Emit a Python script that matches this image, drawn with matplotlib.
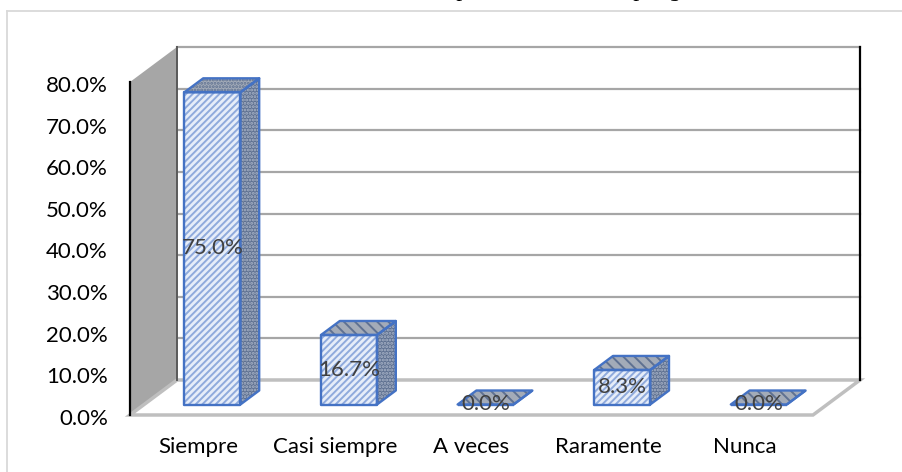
#!/usr/bin/env python3
import matplotlib
matplotlib.use('Agg')
import matplotlib.pyplot as plt
from matplotlib.lines import Line2D
from matplotlib.patches import Polygon
from matplotlib.transforms import ScaledTranslation

categories = ['Siempre', 'Casi siempre', 'A veces', 'Raramente', 'Nunca']
values = [75.0, 16.7, 0.0, 8.3, 0.0]
y_ticks = [0, 10, 20, 30, 40, 50, 60, 70, 80]

W, H = 903, 472
BLUE = '#4472C4'

plt.rcParams['font.family'] = ['Lato', 'DejaVu Sans']
plt.rcParams['hatch.linewidth'] = 1.4

# depth of the fake 3d box, in data units
DX = 47 / 136.6
DY = 35 / 4.1625
BAR_W = 0.41


def depth(x, y, d):
    return (x + DX * d, y + DY * d)


def box_wall(ax, pts, z, **kw):
    ax.add_patch(Polygon(pts, closed=True, clip_on=False, zorder=z, **kw))


def draw_walls(ax):
    top = y_ticks[-1]
    left, right = ax.get_xlim()
    wall = [(left, 0), (left, top), depth(left, top, 1), depth(left, 0, 1)]
    box_wall(ax, wall, 1, facecolor='#A6A6A6', edgecolor='none')
    for t in y_ticks:
        ax.plot([depth(left, t, 1)[0], depth(right, t, 1)[0]],
                [depth(left, t, 1)[1]] * 2,
                color='#A6A6A6', lw=1.6, clip_on=False, zorder=2)
    floor = [(left, 0), (right, 0), depth(right, 0, 1), depth(left, 0, 1)]
    box_wall(ax, floor, 2, facecolor='white', edgecolor='#BFBFBF', lw=2.5)
    ax.plot([depth(left, 0, 1)[0]] * 2, [depth(left, 0, 1)[1], depth(left, top, 1)[1]],
            color='#595959', lw=1.4, clip_on=False, zorder=3)
    ax.plot([left, left], [0, top], color='black', lw=1.6, clip_on=False, zorder=3)
    ax.plot([depth(right, 0, 1)[0]] * 2, [depth(right, 0, 1)[1], depth(right, top, 1)[1]],
            color='black', lw=1.6, clip_on=False, zorder=3)


def draw_bar(ax, i, v, z):
    x0, x1 = i - BAR_W / 2, i + BAR_W / 2
    d0, d1 = 0.3, 0.7
    front = [depth(x0, 0, d0), depth(x1, 0, d0), depth(x1, v, d0), depth(x0, v, d0)]
    side = [depth(x1, 0, d0), depth(x1, 0, d1), depth(x1, v, d1), depth(x1, v, d0)]
    roof = [depth(x0, v, d0), depth(x1, v, d0), depth(x1, v, d1), depth(x0, v, d1)]

    # hatch takes the edge colour, so the outline goes on top as a second patch
    box_wall(ax, side, z, facecolor='#5F7191', edgecolor='#A9B4C8', hatch='.....', lw=0)
    box_wall(ax, roof, z, facecolor='#A3ABB8', edgecolor='#5F7191',
             hatch='\\\\\\' if v < 20 else '.....', lw=0)
    box_wall(ax, front, z, facecolor='#E6EDF9', edgecolor='#8FAADC', hatch='/////', lw=0)
    for pts in (side, roof, front):
        box_wall(ax, pts, z + 0.1, facecolor='none', edgecolor=BLUE, lw=1.7, joinstyle='round')

    lx, ly = depth(i, v / 2, d0)
    ax.text(lx, ly, f'{v:.1f}%', ha='center', va='center', fontsize=16,
            color='#404040', clip_on=False, zorder=20)


fig = plt.figure(figsize=(W / 100, H / 100), dpi=100)
ax = fig.add_axes([130 / W, 1 - 415 / H, 683 / W, 333 / H])
ax.set_xlim(-0.5, len(categories) - 0.5)
ax.set_ylim(0, y_ticks[-1])
ax.patch.set_alpha(0)
for s in ax.spines.values():
    s.set_visible(False)

ax.set_yticks(y_ticks, [f'{t:.1f}%' for t in y_ticks])
ax.set_xticks(range(len(categories)), categories)
ax.tick_params(axis='both', length=0, labelsize=16, labelcolor='black')
ax.tick_params(axis='y', pad=16)
ax.tick_params(axis='x', pad=16)

# labels sit a little under their gridline in the reference
shift = ScaledTranslation(0, -2 / 100, fig.dpi_scale_trans)
for lbl in ax.get_yticklabels():
    lbl.set_transform(lbl.get_transform() + shift)

draw_walls(ax)
# back to front is not needed, bars do not overlap
for i, v in enumerate(values):
    draw_bar(ax, i, v, 5 + i)

# frame of the picture, only top and left fall inside the crop
fig.add_artist(Line2D([7 / W, 7 / W], [0, 1 - 11 / H], color='#D9D9D9', lw=1.3))
fig.add_artist(Line2D([7 / W, 1], [1 - 11 / H] * 2, color='#D9D9D9', lw=1.3))

# caption above is cut by the crop, only these descenders remain
for px, ch in [(463, 'p'), (640, 'p'), (677, 'g')]:
    fig.text(px / W, 1 + 4 / H, ch, family='Liberation Serif', style='italic',
             fontsize=17, ha='center', va='baseline')

fig.savefig('out.png', dpi=100)
